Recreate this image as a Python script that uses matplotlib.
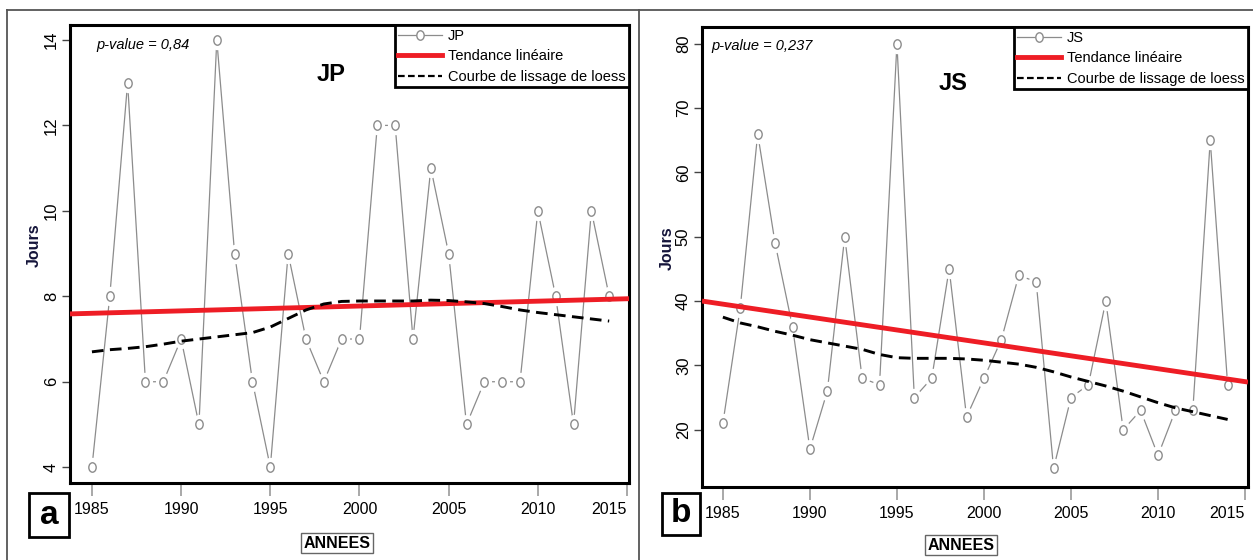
import numpy as np
import matplotlib.pyplot as plt
from matplotlib.lines import Line2D
from matplotlib.patches import Rectangle
from matplotlib.path import Path
from matplotlib.transforms import Affine2D

plt.rcParams['font.family'] = ['Liberation Sans', 'DejaVu Sans']

# ---------------------------------------------------------------------------
# data
# ---------------------------------------------------------------------------
years = np.arange(1985, 2015)

jp_days = [4, 8, 13, 6, 6, 7, 5, 14, 9, 6, 4, 9, 7, 6, 7,
           7, 12, 12, 7, 11, 9, 5, 6, 6, 6, 10, 8, 5, 10, 8]
js_days = [21, 39, 66, 49, 36, 17, 26, 50, 28, 27, 80, 25, 28, 45, 22,
           28, 34, 44, 43, 14, 25, 27, 40, 20, 23, 16, 23, 23, 65, 27]

# loess curves
jp_loess = [6.70, 6.75, 6.78, 6.82, 6.88, 6.95, 7.00, 7.05, 7.10, 7.15,
            7.28, 7.48, 7.68, 7.82, 7.88, 7.89, 7.89, 7.89, 7.89, 7.91,
            7.90, 7.87, 7.83, 7.76, 7.68, 7.62, 7.57, 7.52, 7.47, 7.42]
js_loess = [37.5, 36.6, 36.0, 35.3, 34.7, 34.0, 33.5, 33.0, 32.5, 31.7,
            31.2, 31.1, 31.1, 31.1, 31.0, 30.8, 30.5, 30.2, 29.7, 29.0,
            28.2, 27.5, 26.8, 26.0, 25.1, 24.2, 23.4, 22.8, 22.2, 21.6]

xticks = [1985, 1990, 1995, 2000, 2005, 2010, 2015]
jp_yticks = [4, 6, 8, 10, 12, 14]
js_yticks = [20, 30, 40, 50, 60, 70, 80]

RED = '#ee1d25'
GREY = '#8c8c8c'

# slightly tall open circle, as in the original
ellipse = Path.unit_circle().transformed(Affine2D().scale(0.78, 1.0))


def draw_panel(ax, name, values, loess, yticks, xlim, ylim, pval, title_pos):
    ax.set_xlim(*xlim)
    ax.set_ylim(*ylim)

    # series drawn R-style (type="b"): line with gaps around the points
    ax.plot(years, values, color=GREY, lw=0.9, zorder=1)
    ax.plot(years, values, ls='none', marker=ellipse, ms=14, mfc='white',
            mec='none', zorder=2)
    ax.plot(years, values, ls='none', marker=ellipse, ms=6.8, mfc='white',
            mec=GREY, mew=1.0, zorder=3)

    # linear trend
    slope, inter = np.polyfit(years, values, 1)
    xx = np.array(xlim)
    ax.plot(xx, slope * xx + inter, color=RED, lw=3.5, zorder=4,
            solid_capstyle='butt')
    # loess
    ax.plot(years, loess, color='black', lw=2.1, ls=(0, (4, 2.2)), zorder=5)

    ax.set_xticks(xticks)
    ax.set_yticks(yticks)
    ax.tick_params(axis='x', length=9, width=1.2, color='#999999', pad=5,
                   labelsize=11.5)
    ax.tick_params(axis='y', length=6, width=1.0, color='#444444', pad=2,
                   labelsize=12, labelrotation=90)
    for lab in ax.get_yticklabels():
        lab.set_va('center')
    # last year label is pushed inside, as in the original
    ax.get_xticklabels()[-1].set_ha('right')
    for s in ax.spines.values():
        s.set_linewidth(2.2)
        s.set_color('black')

    ax.set_ylabel('Jours', fontweight='bold', fontsize=11.5, color='#14143a')
    ax.yaxis.set_label_coords(-0.05, 0.52)

    ax.text(title_pos[0], title_pos[1], name, transform=ax.transAxes,
            ha='center', va='center', fontsize=17, fontweight='bold')
    ax.text(title_pos[2], title_pos[3], pval, transform=ax.transAxes,
            ha='left', va='center', fontsize=10.5, style='italic')

    handles = [
        Line2D([], [], color=GREY, lw=0.9, marker=ellipse, ms=6.8,
               mfc='white', mec=GREY),
        Line2D([], [], color=RED, lw=3.5),
        Line2D([], [], color='black', lw=1.6, ls=(0, (3, 1.5))),
    ]
    labels = [name, 'Tendance linéaire', 'Courbe de lissage de loess']
    leg = ax.legend(handles, labels, loc='upper right', bbox_to_anchor=(1, 1),
                    borderaxespad=0, fontsize=10.5, numpoints=1,
                    handlelength=3.0, handletextpad=0.4, labelspacing=0.45,
                    borderpad=0.25, fancybox=False, framealpha=1)
    leg.get_frame().set_edgecolor('black')
    leg.get_frame().set_linewidth(2.0)


fig = plt.figure(figsize=(12.53, 5.6), dpi=100)
W, H = 1253, 560

ax_a = fig.add_axes([70 / W, 1 - 483 / H, 559 / W, 458 / H])
ax_b = fig.add_axes([702 / W, 1 - 487 / H, 546 / W, 460 / H])

draw_panel(ax_a, 'JP', jp_days, jp_loess, jp_yticks,
           (1983.77, 2015.11), (3.63, 14.35), 'p-value = 0,84',
           (0.467, 0.891, 0.048, 0.956))
draw_panel(ax_b, 'JS', js_days, js_loess, js_yticks,
           (1983.8, 2015.17), (11.1, 82.6), 'p-value = 0,237',
           (0.46, 0.878, 0.018, 0.959))

# outer frame and divider
frame_kw = dict(color='#555555', lw=1.3, transform=fig.transFigure)
fig.add_artist(Line2D([7 / W, 1], [1 - 10 / H, 1 - 10 / H], **frame_kw))
fig.add_artist(Line2D([7 / W, 7 / W], [0, 1 - 10 / H], **frame_kw))
fig.add_artist(Line2D([639 / W, 639 / W], [0, 1 - 10 / H], **frame_kw))

# panel letters in boxes
for (x0, y0, x1, y1), letter in [((29, 493, 69, 537), 'a'),
                                 ((662, 493, 700, 535), 'b')]:
    fig.add_artist(Rectangle((x0 / W, 1 - y1 / H), (x1 - x0) / W,
                             (y1 - y0) / H, transform=fig.transFigure,
                             fill=False, ec='black', lw=2.0))
    fig.text((x0 + x1) / 2 / W, 1 - (y0 + y1) / 2 / H, letter,
             ha='center', va='center', fontsize=24, fontweight='bold')

# x-axis titles in thin boxes
for xc, yc in [(337, 543), (961, 545)]:
    fig.text(xc / W, 1 - yc / H, 'ANNEES', ha='center', va='center',
             fontsize=11.5, fontweight='bold',
             bbox=dict(boxstyle='square,pad=0.15', fc='white',
                       ec='#666666', lw=1.0))

plt.savefig('out.png', dpi=100)
plt.close()
